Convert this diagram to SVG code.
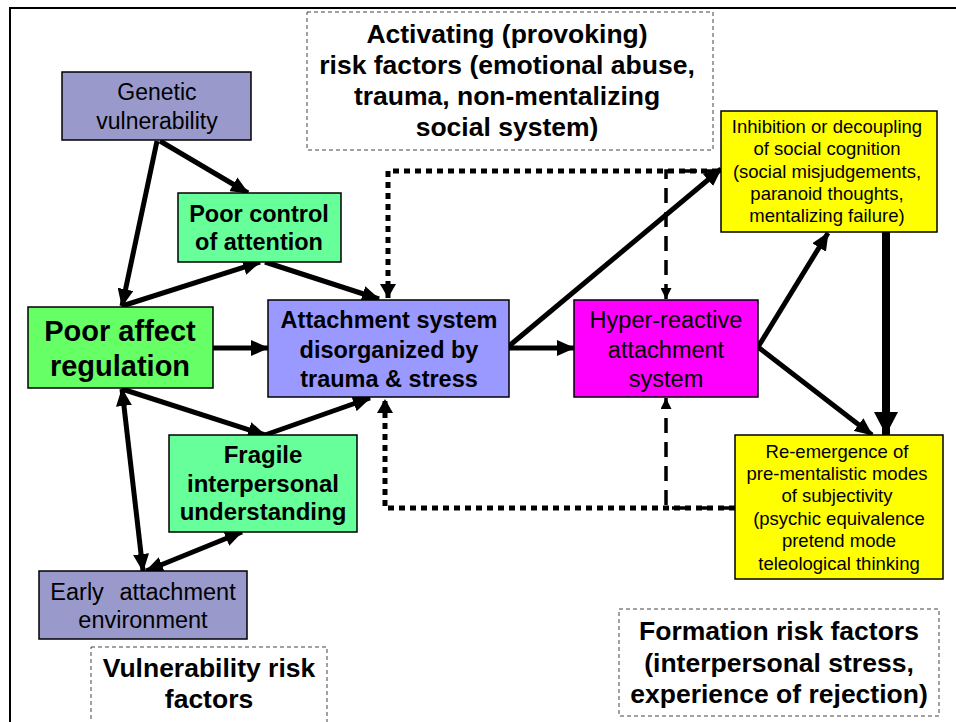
<svg xmlns="http://www.w3.org/2000/svg" width="956" height="722" viewBox="0 0 956 722">
  <style>
    .node { stroke: #000; stroke-width: 1.5; }
    .note { fill: #fff; stroke: #444; stroke-width: 1; stroke-dasharray: 4 3; }
    .t { font-family: "Liberation Sans", Arial, sans-serif; text-anchor: middle; fill: #000; }
    .b { font-weight: bold; }
    .arr { stroke: #000; stroke-width: 5; fill: none; marker-end: url(#ah); }
    .dbl { marker-start: url(#ah); }
    .dot { stroke: #000; stroke-width: 5; fill: none; stroke-dasharray: 6 5; marker-end: url(#ahd); }
    .dash { stroke: #000; stroke-width: 3.5; fill: none; stroke-dasharray: 15 9; marker-end: url(#ahs); }
  </style>
  <defs>
    <marker id="ah" markerUnits="userSpaceOnUse" markerWidth="18" markerHeight="16" refX="17" refY="8" orient="auto-start-reverse">
      <path d="M0,0 L18,8 L0,16 z" fill="#000"/>
    </marker>
    <marker id="ahd" markerUnits="userSpaceOnUse" markerWidth="14" markerHeight="16" refX="14" refY="8" orient="auto">
      <path d="M0,0 L14,8 L0,16 z" fill="#000"/>
    </marker>
    <marker id="ahs" markerUnits="userSpaceOnUse" markerWidth="11" markerHeight="11" refX="11" refY="5.5" orient="auto">
      <path d="M0,0 L11,5.5 L0,11 z" fill="#000"/>
    </marker>
    <marker id="ahb" markerUnits="userSpaceOnUse" markerWidth="23" markerHeight="24" refX="23" refY="12" orient="auto">
      <path d="M0,0 L23,12 L0,24 z" fill="#000"/>
    </marker>
  </defs>

  <!-- outer frame -->
  <rect x="10" y="8" width="960" height="740" fill="#fff" stroke="#000" stroke-width="2"/>

  <!-- annotation boxes -->
  <g id="activating">
    <rect class="note" x="307" y="12" width="406" height="138"/>
    <text class="t b" font-size="26.5" x="507" y="43">Activating (provoking)</text>
    <text class="t b" font-size="26.5" x="507" y="74">risk factors (emotional abuse,</text>
    <text class="t b" font-size="26.5" x="507" y="105">trauma, non-mentalizing</text>
    <text class="t b" font-size="26.5" x="507" y="136">social system)</text>
  </g>
  <g id="vulnerability">
    <rect class="note" x="91" y="647" width="236" height="80"/>
    <text class="t b" font-size="26.5" x="209" y="677">Vulnerability risk</text>
    <text class="t b" font-size="26.5" x="209" y="708">factors</text>
  </g>
  <g id="formation">
    <rect class="note" x="619" y="609" width="320" height="107"/>
    <text class="t b" font-size="26.5" x="779" y="640">Formation risk factors</text>
    <text class="t b" font-size="26.5" x="779" y="672">(interpersonal stress,</text>
    <text class="t b" font-size="26.5" x="779" y="703">experience of rejection)</text>
  </g>

  <!-- connectors -->
  <g id="connectors">
    <!-- feedback paths -->
    <polyline class="dot" points="718,171 388,171 388,298"/>
    <polyline class="dash" points="721,171 666,171 666,299"/>
    <polyline class="dot" points="735,508 385,508 385,399"/>
    <polyline class="dash" points="735,508 666,508 666,398"/>

    <line class="arr" x1="157" y1="141" x2="122" y2="306"/>
    <line class="arr" x1="160" y1="141" x2="248" y2="193"/>
    <line class="arr" x1="122" y1="306" x2="260" y2="262"/>
    <line class="arr" x1="265" y1="262" x2="379" y2="299"/>
    <line class="arr" x1="213" y1="348" x2="268" y2="348"/>
    <line class="arr" x1="122" y1="389" x2="265" y2="435"/>
    <line class="arr" x1="265" y1="435" x2="370" y2="398"/>
    <line class="arr dbl" x1="122" y1="389" x2="143" y2="571"/>
    <line class="arr dbl" x1="146" y1="571" x2="242" y2="532"/>
    <line class="arr" x1="509" y1="348" x2="574" y2="348"/>
    <line class="arr" x1="509" y1="346" x2="721" y2="169"/>
    <line class="arr" x1="758" y1="347" x2="828" y2="233"/>
    <line class="arr" x1="758" y1="347" x2="872" y2="435"/>
    <line stroke="#000" stroke-width="8" marker-end="url(#ahb)" x1="886" y1="232" x2="886" y2="435"/>
  </g>

  <!-- nodes -->
  <g id="genetic">
    <rect class="node" x="62" y="72" width="189" height="68" fill="#9999CC"/>
    <text class="t" font-size="23" x="157" y="100">Genetic</text>
    <text class="t" font-size="23" x="157" y="129">vulnerability</text>
  </g>
  <g id="poor-control">
    <rect class="node" x="178" y="193" width="163" height="69" fill="#66FF99"/>
    <text class="t b" font-size="23.5" x="259" y="222">Poor control</text>
    <text class="t b" font-size="23.5" x="259" y="250">of attention</text>
  </g>
  <g id="poor-affect">
    <rect class="node" x="28" y="307" width="185" height="81" fill="#66FF66"/>
    <text class="t b" font-size="29" x="120" y="341">Poor affect</text>
    <text class="t b" font-size="29" x="120" y="376">regulation</text>
  </g>
  <g id="attachment">
    <rect class="node" x="268" y="300" width="241" height="97" fill="#9999FF"/>
    <text class="t b" font-size="23.5" x="389" y="328">Attachment system</text>
    <text class="t b" font-size="23.5" x="389" y="358">disorganized by</text>
    <text class="t b" font-size="23.5" x="389" y="387">trauma &amp; stress</text>
  </g>
  <g id="hyper">
    <rect class="node" x="574" y="300" width="184" height="97" fill="#FF00FF"/>
    <text class="t" font-size="23.5" x="666" y="328">Hyper-reactive</text>
    <text class="t" font-size="23.5" x="666" y="358">attachment</text>
    <text class="t" font-size="23.5" x="666" y="387">system</text>
  </g>
  <g id="fragile">
    <rect class="node" x="169" y="435" width="188" height="97" fill="#66FF99"/>
    <text class="t b" font-size="24" x="263" y="463">Fragile</text>
    <text class="t b" font-size="24" x="263" y="492">interpersonal</text>
    <text class="t b" font-size="24" x="263" y="520">understanding</text>
  </g>
  <g id="early">
    <rect class="node" x="39" y="571" width="208" height="68" fill="#9999CC"/>
    <text class="t" font-size="23.5" x="143" y="600" word-spacing="9">Early attachment</text>
    <text class="t" font-size="23.5" x="143" y="628">environment</text>
  </g>
  <g id="inhibition">
    <rect class="node" x="721" y="111" width="216" height="121" fill="#FFFF00"/>
    <text class="t" font-size="18.5" x="827" y="133">Inhibition or decoupling</text>
    <text class="t" font-size="18.5" x="827" y="155">of social cognition</text>
    <text class="t" font-size="18.5" x="827" y="178">(social misjudgements,</text>
    <text class="t" font-size="18.5" x="827" y="200">paranoid thoughts,</text>
    <text class="t" font-size="18.5" x="827" y="222">mentalizing failure)</text>
  </g>
  <g id="re-emergence">
    <rect class="node" x="735" y="435" width="208" height="144" fill="#FFFF00"/>
    <text class="t" font-size="18.5" x="837" y="458">Re-emergence of</text>
    <text class="t" font-size="18.5" x="837" y="480">pre-mentalistic modes</text>
    <text class="t" font-size="18.5" x="837" y="502">of subjectivity</text>
    <text class="t" font-size="18.5" x="839" y="525">(psychic equivalence</text>
    <text class="t" font-size="18.5" x="839" y="547">pretend mode</text>
    <text class="t" font-size="18.5" x="839" y="570">teleological thinking</text>
  </g>
</svg>
